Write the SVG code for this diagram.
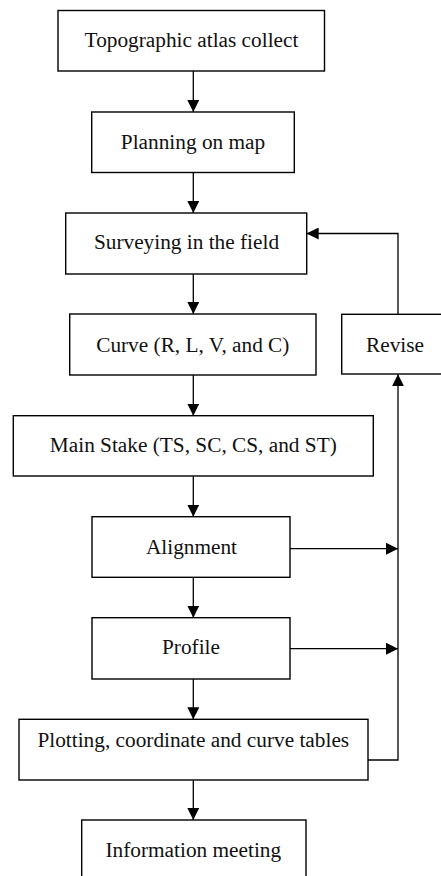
<svg xmlns="http://www.w3.org/2000/svg" width="441" height="876" viewBox="0 0 441 876">
<style>
.box{fill:#fff;stroke:#000;stroke-width:1.4}
.t{font-family:"Liberation Serif","Times New Roman",serif;font-size:21.3px;fill:#111;text-anchor:middle}
.c{fill:none;stroke:#000;stroke-width:1.3}
</style>
<defs>
<marker id="ah" markerWidth="12" markerHeight="12" refX="12" refY="6" orient="auto" markerUnits="userSpaceOnUse">
<path d="M0,0 L12,6 L0,12 Z" fill="#000"/>
</marker>
</defs>
<rect width="441" height="876" fill="#fff"/>
<g id="connectors">
<line class="c" x1="193.3" y1="71" x2="193.3" y2="112" marker-end="url(#ah)"/>
<line class="c" x1="193.3" y1="172.5" x2="193.3" y2="213" marker-end="url(#ah)"/>
<line class="c" x1="193.3" y1="274" x2="193.3" y2="314" marker-end="url(#ah)"/>
<line class="c" x1="193.3" y1="375" x2="193.3" y2="415.7" marker-end="url(#ah)"/>
<line class="c" x1="193.3" y1="476" x2="193.3" y2="516.7" marker-end="url(#ah)"/>
<line class="c" x1="193.3" y1="577.3" x2="193.3" y2="617.7" marker-end="url(#ah)"/>
<line class="c" x1="193.3" y1="679" x2="193.3" y2="719.3" marker-end="url(#ah)"/>
<line class="c" x1="193.3" y1="780" x2="193.3" y2="820" marker-end="url(#ah)"/>
<polyline class="c" points="398,314.3 398,233.5 306.7,233.5" marker-end="url(#ah)"/>
<line class="c" x1="290" y1="548.7" x2="398" y2="548.7" marker-end="url(#ah)"/>
<line class="c" x1="290" y1="648.7" x2="398" y2="648.7" marker-end="url(#ah)"/>
<polyline class="c" points="368,760 398,760 398,374.3" marker-end="url(#ah)"/>
</g>
<g id="n1"><rect class="box" x="58" y="10.5" width="266.5" height="60.5"/><text class="t" x="191.5" y="46.7">Topographic atlas collect</text></g>
<g id="n2"><rect class="box" x="91.7" y="112" width="202.6" height="60.5"/><text class="t" x="193" y="148.7">Planning on map</text></g>
<g id="n3"><rect class="box" x="65.7" y="213" width="241" height="61"/><text class="t" x="186.5" y="249">Surveying in the field</text></g>
<g id="n4"><rect class="box" x="69.7" y="314" width="246.3" height="61"/><text class="t" x="192.8" y="351.7">Curve (R, L, V, and C)</text></g>
<g id="n5"><rect class="box" x="341.7" y="314.3" width="110" height="59.7"/><text class="t" x="395" y="351.7">Revise</text></g>
<g id="n6"><rect class="box" x="13.3" y="415.7" width="360" height="60.3"/><text class="t" x="193.3" y="451.7">Main Stake (TS, SC, CS, and ST)</text></g>
<g id="n7"><rect class="box" x="92" y="516.7" width="198" height="60.6"/><text class="t" x="191.5" y="554">Alignment</text></g>
<g id="n8"><rect class="box" x="92" y="617.7" width="198" height="61.3"/><text class="t" x="191" y="654">Profile</text></g>
<g id="n9"><rect class="box" x="19" y="719.3" width="349" height="60.7"/><text class="t" x="193.3" y="746.7">Plotting, coordinate and curve tables</text></g>
<g id="n10"><rect class="box" x="81.7" y="820" width="224.3" height="70"/><text class="t" x="193.3" y="856.7">Information meeting</text></g>
</svg>
